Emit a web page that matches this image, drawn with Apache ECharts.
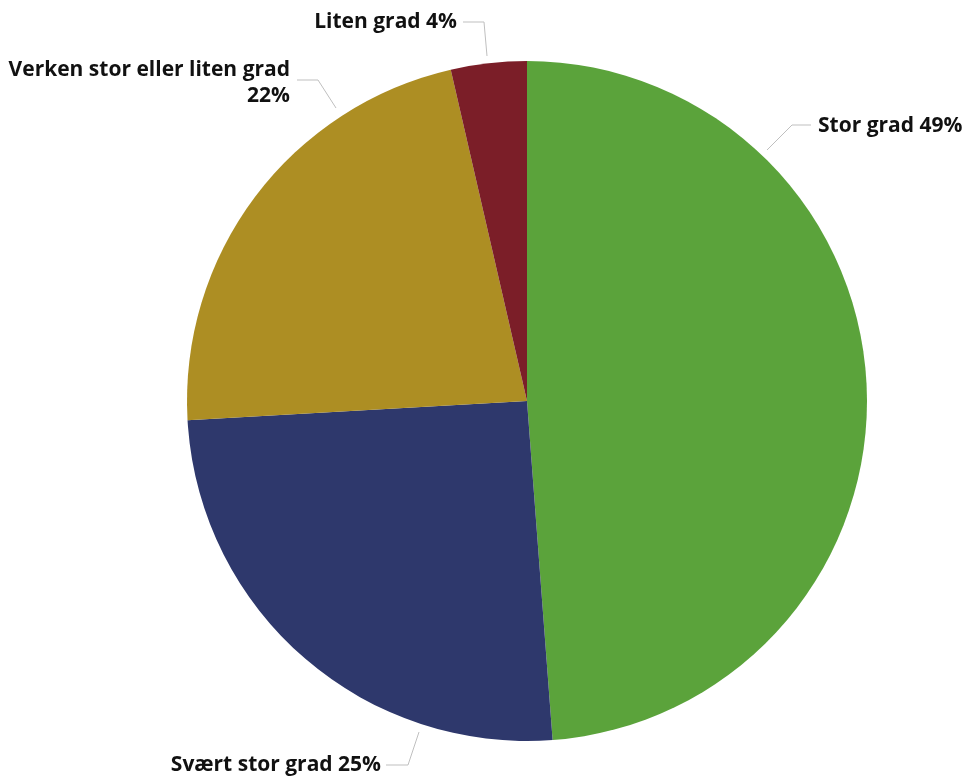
<!DOCTYPE html>
<html>
<head>
<meta charset="utf-8">
<script src="https://cdn.jsdelivr.net/npm/echarts@6/dist/echarts.min.js"></script>
<style>
html,body{margin:0;padding:0;background:#fff;}
#chart{width:972px;height:782px;}
</style>
</head>
<body>
<div id="chart"></div>
<script>
const categories = ['Stor grad', 'Svært stor grad', 'Verken stor eller liten grad', 'Liten grad'];
const values = [48.8, 25.3, 22.3, 3.6];
const colors = ['#5BA33B', '#2E386C', '#AD8E23', '#7B1E28'];

const labelPos = [
  {x: 818, y: 126, align: 'left', line: [[767, 150], [792, 125], [811, 125]]},
  {x: 381, y: 765, align: 'right', line: [[419, 732], [408, 765], [386, 765]]},
  {x: 290, y: 83, align: 'right', line: [[336, 108], [318, 80], [297, 80]]},
  {x: 457, y: 22, align: 'right', line: [[487, 56], [484, 22], [463, 22]]}
];

const chart = echarts.init(document.getElementById('chart'), null, {renderer: 'canvas'});
chart.setOption({
  animation: false,
  series: [{
    type: 'pie',
    center: [527, 401],
    radius: 340,
    startAngle: 90,
    clockwise: true,
    data: categories.map((c, i) => ({name: c, value: values[i], itemStyle: {color: colors[i]}})),
    label: {
      show: true,
      formatter: p => p.name + (p.name.length > 20 ? '\n' : ' ') + Math.round(p.percent) + '%',
      fontFamily: 'Open Sans',
      fontWeight: 'bold',
      fontSize: 21,
      lineHeight: 26,
      color: '#111',
      overflow: 'none',
      width: null
    },
    labelLine: {show: true, lineStyle: {color: '#bfbfbf', width: 1}},
    labelLayout: function (params) {
      const l = labelPos[params.dataIndex];
      return {x: l.x, y: l.y, align: l.align, verticalAlign: 'middle', labelLinePoints: l.line};
    }
  }]
});
</script>
</body>
</html>
